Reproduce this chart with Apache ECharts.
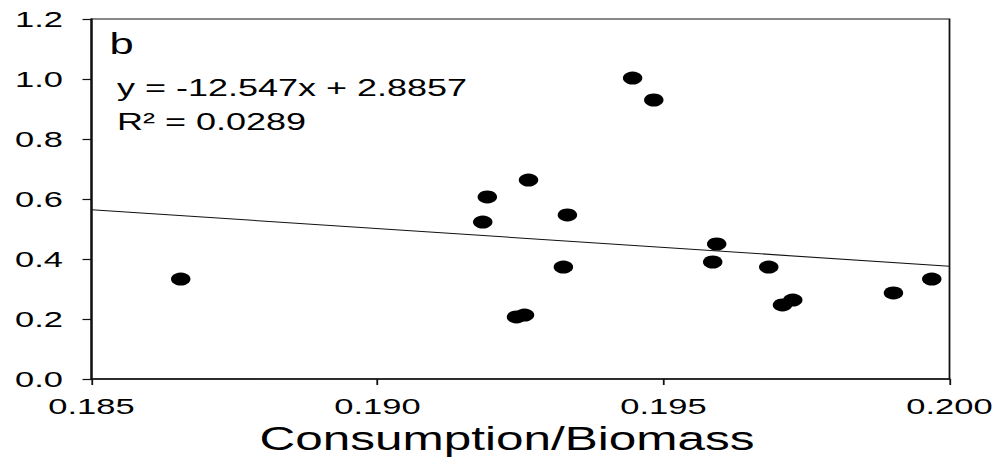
<!DOCTYPE html>
<html>
<head>
<meta charset="utf-8">
<script src="https://cdn.jsdelivr.net/npm/echarts@6/dist/echarts.min.js"></script>
<style>
  html, body { margin: 0; padding: 0; background: #fff; overflow: hidden; }
  /* the reference is stretched sideways, so draw narrow and widen it */
  #chart { width: 666px; height: 465px; transform: scaleX(1.5); transform-origin: 0 0; }
</style>
</head>
<body>
<div id="chart"></div>
<script>
// consumption/biomass vs. response
const ratioX = [0.18656, 0.19184, 0.19192, 0.19264, 0.19332, 0.19325, 0.19243, 0.19257, 0.19446,
  0.19483, 0.19593, 0.19586, 0.19684, 0.19708, 0.19726, 0.19902, 0.19969];
const valueY = [0.333, 0.523, 0.607, 0.663, 0.547, 0.373, 0.207, 0.213, 1.003,
  0.930, 0.450, 0.390, 0.373, 0.247, 0.263, 0.287, 0.333];
// fitted line ends
const trendX = [0.185, 0.200];
const trendY = [0.564, 0.376];
const equation = "y = -12.547x + 2.8857";
const rSquared = "R² = 0.0289";
const panel = "b";

const font = "Liberation Sans";
const ink = "#111";

const myChart = echarts.init(document.getElementById("chart"), null, { renderer: "svg" });
myChart.setOption({
  animation: false,
  textStyle: { fontFamily: font },
  grid: {
    left: 61, right: 33, top: 19, bottom: 86,
    show: true, borderColor: ink, borderWidth: 1.2
  },
  xAxis: {
    type: "value",
    min: 0.185,
    max: 0.200,
    interval: 0.005,
    name: "Consumption/Biomass",
    nameLocation: "middle",
    nameGap: 40,
    nameTextStyle: { fontSize: 33, color: "#000", fontFamily: font, padding: [0, 18, 0, 0] },
    axisLine: { lineStyle: { color: ink, width: 1.5 } },
    axisTick: { length: 6, lineStyle: { color: ink, width: 1.2 } },
    axisLabel: {
      fontSize: 23, color: "#000", margin: 15,
      formatter: v => v.toFixed(3)
    },
    splitLine: { show: false }
  },
  yAxis: {
    type: "value",
    min: 0,
    max: 1.2,
    interval: 0.2,
    axisLine: { show: true, lineStyle: { color: ink, width: 1.5 } },
    axisTick: { show: true, length: 6, lineStyle: { color: ink, width: 1.2 } },
    axisLabel: {
      fontSize: 23, color: "#000", margin: 19,
      formatter: v => v.toFixed(1)
    },
    splitLine: { show: false }
  },
  graphic: [
    { type: "text", left: 73, top: 30, style: { text: panel, fontSize: 29, fill: "#000", fontFamily: font } },
    { type: "text", left: 78, top: 75, style: { text: equation, fontSize: 24, fill: "#000", fontFamily: font } },
    { type: "text", left: 78, top: 109, style: { text: rSquared, fontSize: 24, fill: "#000", fontFamily: font } }
  ],
  series: [
    {
      type: "line",
      data: trendX.map((x, i) => [x, trendY[i]]),
      symbol: "none",
      lineStyle: { color: ink, width: 1 },
      z: 1
    },
    {
      type: "scatter",
      data: ratioX.map((x, i) => [x, valueY[i]]),
      symbol: "circle",
      symbolSize: 13,
      itemStyle: { color: "#000", opacity: 1 },
      z: 2
    }
  ]
});
</script>
</body>
</html>
